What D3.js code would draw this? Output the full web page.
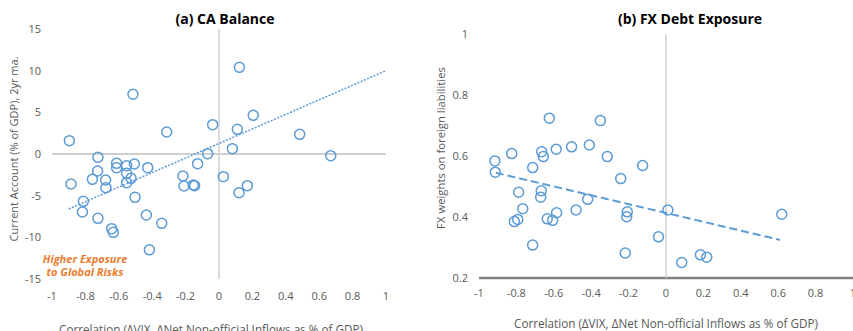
<!DOCTYPE html>
<html>
<head>
<meta charset="utf-8">
<script src="https://cdn.jsdelivr.net/npm/d3@7"></script>
<style>
  body { margin: 0; background: #fff; }
  svg { font-family: "Open Sans", "Noto Sans", sans-serif; }
</style>
</head>
<body>
<svg id="chart" width="853" height="331"></svg>
<script>
// panel (a) CA Balance: correlation vs current account
const caX = [-0.896, -0.515, -0.313, -0.038, 0.122, 0.205, 0.11, 0.08, 0.483, 0.669,
  -0.068, -0.128, -0.725, -0.613, -0.613, -0.553, -0.507, -0.427, -0.727, -0.553,
  -0.758, -0.679, -0.527, -0.886, -0.553, -0.677, -0.503, -0.812, -0.818, -0.725,
  -0.435, -0.343, -0.643, -0.633, -0.417, -0.216, -0.21, -0.154, -0.146, 0.026,
  0.12, 0.17];
const caY = [1.6, 7.17, 2.64, 3.52, 10.4, 4.64, 2.96, 0.64, 2.36, -0.2,
  0.04, -1.16, -0.4, -1.12, -1.64, -1.4, -1.2, -1.64, -2.04, -2.32,
  -3.04, -3.12, -2.92, -3.6, -3.44, -4.04, -5.2, -5.68, -6.96, -7.72,
  -7.32, -8.32, -8.96, -9.4, -11.5, -2.64, -3.84, -3.72, -3.8, -2.72,
  -4.64, -3.8];
const caTrendX = [-0.9, 1];
const caTrendY = [-6.6, 10];

// panel (b) FX Debt Exposure
const fxX = [-0.624, -0.351, -0.915, -0.913, -0.825, -0.665, -0.656, -0.587, -0.505, -0.41,
  -0.314, -0.125, -0.713, -0.242, -0.788, -0.667, -0.67, -0.419, -0.766, -0.481,
  -0.585, -0.635, -0.606, -0.793, -0.811, -0.207, -0.21, 0.01, -0.713, -0.218,
  -0.04, 0.619, 0.084, 0.184, 0.218];
const fxY = [0.724, 0.716, 0.584, 0.547, 0.608, 0.614, 0.598, 0.622, 0.63, 0.636,
  0.598, 0.569, 0.562, 0.526, 0.481, 0.486, 0.465, 0.458, 0.427, 0.423,
  0.414, 0.394, 0.389, 0.392, 0.385, 0.417, 0.401, 0.423, 0.308, 0.282,
  0.335, 0.409, 0.251, 0.276, 0.268];
const fxTrendX = [-0.91, 0.61];
const fxTrendY = [0.545, 0.325];

const xTicks = [-1, -0.8, -0.6, -0.4, -0.2, 0, 0.2, 0.4, 0.6, 0.8, 1];
const caTicks = [15, 10, 5, 0, -5, -10, -15];
const fxTicks = [1, 0.8, 0.6, 0.4, 0.2];

const svg = d3.select("#chart");
const blue = "#5b9bd5";
const labelColor = "#595959";
const xTitle = "Correlation (\u0394VIX, \u0394Net Non-official Inflows as % of GDP)";

function panel(opt) {
  const x = d3.scaleLinear().domain([-1, 1]).range(opt.xRange);
  const y = d3.scaleLinear().domain(opt.yDomain).range(opt.yRange);
  const g = svg.append("g");

  // y=zero / base line
  g.append("line")
    .attr("x1", x(-1)).attr("x2", x(1))
    .attr("y1", y(opt.hLine)).attr("y2", y(opt.hLine))
    .attr("stroke", opt.hColor).attr("stroke-width", opt.hWidth);
  // x=0 line
  g.append("line")
    .attr("x1", x(0)).attr("x2", x(0))
    .attr("y1", y(opt.yDomain[1])).attr("y2", y(opt.yDomain[0]))
    .attr("stroke", "#d0d0d0").attr("stroke-width", 1.5);

  // tick labels
  g.selectAll(".yt").data(opt.yTicks).enter().append("text")
    .attr("x", opt.yLabelX).attr("y", (d) => y(d))
    .attr("dy", "0.35em").attr("text-anchor", "end")
    .attr("font-size", 11).attr("fill", labelColor)
    .text((d) => d);
  g.selectAll(".xt").data(xTicks).enter().append("text")
    .attr("x", (d) => x(d)).attr("y", opt.xLabelY)
    .attr("dy", "0.35em").attr("text-anchor", "middle")
    .attr("font-size", 11).attr("fill", labelColor)
    .text((d) => d);

  // trend line
  g.append("path")
    .datum(d3.zip(opt.tx, opt.ty))
    .attr("fill", "none").attr("stroke", blue)
    .attr("stroke-width", opt.trendWidth)
    .attr("stroke-dasharray", opt.dash)
    .attr("d", d3.line().x((d) => x(d[0])).y((d) => y(d[1])));

  // points
  g.selectAll("circle").data(d3.zip(opt.px, opt.py)).enter().append("circle")
    .attr("cx", (d) => x(d[0])).attr("cy", (d) => y(d[1]))
    .attr("r", 5).attr("fill", "none")
    .attr("stroke", blue).attr("stroke-width", 1.5);

  // titles
  g.append("text")
    .attr("x", opt.titleX).attr("y", 19).attr("dy", "0.35em")
    .attr("text-anchor", "middle").attr("font-size", 14).attr("font-weight", "bold")
    .attr("fill", "#000").text(opt.title);
  g.append("text")
    .attr("transform", `translate(${opt.yTitleX},${opt.yTitleY}) rotate(-90)`)
    .attr("dy", "0.35em").attr("text-anchor", "middle")
    .attr("font-size", opt.yTitleSize).attr("fill", labelColor).text(opt.yTitle);
  g.append("text")
    .attr("x", opt.xTitleX).attr("y", opt.xTitleY).attr("dy", "0.35em")
    .attr("text-anchor", "middle").attr("font-size", 11.7)
    .attr("fill", labelColor).text(xTitle);
  return { x, y, g };
}

const a = panel({
  xRange: [52, 386], yDomain: [-15, 15], yRange: [279, 29],
  hLine: 0, hColor: "#bfbfbf", hWidth: 1.5,
  yTicks: caTicks, yLabelX: 41, xLabelY: 296,
  tx: caTrendX, ty: caTrendY, trendWidth: 1.5, dash: "2,1.5",
  px: caX, py: caY,
  title: "(a) CA Balance", titleX: 225,
  yTitle: "Current Account (% of GDP), 2yr ma.", yTitleX: 14, yTitleY: 149, yTitleSize: 11,
  xTitleX: 211, xTitleY: 330
});

panel({
  xRange: [479, 853], yDomain: [0.2, 1], yRange: [278, 34],
  hLine: 0.2, hColor: "#7f7f7f", hWidth: 2.5,
  yTicks: fxTicks, yLabelX: 468, xLabelY: 293,
  tx: fxTrendX, ty: fxTrendY, trendWidth: 2, dash: "8,4",
  px: fxX, py: fxY,
  title: "(b) FX Debt Exposure", titleX: 690,
  yTitle: "FX weights on foreign liabilities", yTitleX: 441, yTitleY: 148, yTitleSize: 11.3,
  xTitleX: 666, xTitleY: 324
});

// annotation in panel (a)
a.g.append("text")
  .attr("x", 85).attr("text-anchor", "middle")
  .attr("font-size", 11).attr("font-weight", "bold").attr("font-style", "italic")
  .attr("fill", "#ed7d31")
  .selectAll("tspan").data(["Higher Exposure", "to Global Risks"]).enter()
  .append("tspan").attr("x", 85)
  .attr("y", (d, i) => 259 + i * 13.5).attr("dy", "0.35em")
  .text((d) => d);
</script>
</body>
</html>
